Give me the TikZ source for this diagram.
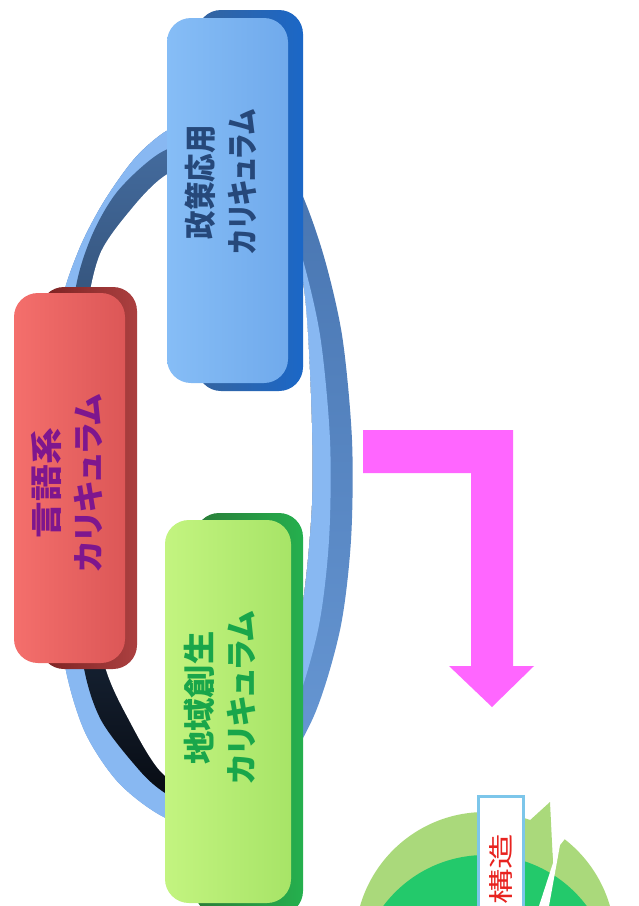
\documentclass[tikz,border=0pt]{standalone}
\usepackage{fontspec}
\usepackage{graphicx}
\newfontfamily\jp[CharacterWidth=AlternateProportional]{Noto Sans CJK JP}
\definecolor{ringlight}{HTML}{88B8F2}
\definecolor{ringouter}{HTML}{3F6BA6}
\definecolor{ringouterb}{HTML}{6E9FDC}
\definecolor{ringdarktop}{HTML}{446C9F}
\definecolor{ringdarkmid}{HTML}{263F63}
\definecolor{ringdarkbot}{HTML}{06090F}
\definecolor{bluefaceL}{HTML}{86BDF6}
\definecolor{bluefaceR}{HTML}{70AAEC}
\definecolor{bluesideL}{HTML}{35649F}
\definecolor{bluesideR}{HTML}{1B67C7}
\definecolor{bluetext}{HTML}{26487A}
\definecolor{redfaceL}{HTML}{F46F6C}
\definecolor{redfaceR}{HTML}{DC5757}
\definecolor{redsideL}{HTML}{7A2222}
\definecolor{redsideR}{HTML}{AC4040}
\definecolor{redtext}{HTML}{7E168E}
\definecolor{greenfaceL}{HTML}{C3F480}
\definecolor{greenfaceR}{HTML}{A7E467}
\definecolor{greensideL}{HTML}{2A7C38}
\definecolor{greensideR}{HTML}{25B04E}
\definecolor{greentext}{HTML}{19A64A}
\definecolor{arrowpink}{HTML}{FF66FF}
\definecolor{cyclelight}{HTML}{AAD97B}
\definecolor{cycledark}{HTML}{23C96B}
\definecolor{labelblue}{HTML}{7CC6EA}
\definecolor{labelred}{HTML}{E8231F}
\begin{document}
\begin{tikzpicture}[x=1pt,y=-1pt,
  boxtext/.style={rotate=90, align=center, inner sep=0pt,
    font=\jp\bfseries\fontsize{32}{42}\selectfont},
  boxface/.style={rounded corners=24pt, minimum width=#1, inner sep=0pt},
]
\useasboundingbox (0,0) rectangle (638,906);
\clip (0,0) rectangle (638,906);
\fill[white] (0,0) rectangle (638,906);

% ---------- ring ----------
\begin{scope}
\clip plot[smooth cycle] coordinates {(206,118) (255,132) (295,180) (322,250) (342,335) (352,440) (351,540) (340,630) (313,718) (266,795) (210,832) (160,815) (117,781) (84,730) (64,660) (57,560) (56,420) (60,312) (78,252) (103,203) (135,158) (168,130)};
\shade[top color=ringouter, bottom color=ringouterb] (0,0) rectangle (638,906);
\begin{scope}[xshift=-22pt]
\fill[ringlight] plot[smooth cycle] coordinates {(206,118) (255,132) (295,180) (322,250) (342,335) (352,440) (351,540) (340,630) (313,718) (266,795) (210,832) (160,815) (117,781) (84,730) (64,660) (57,560) (56,420) (60,312) (78,252) (103,203) (135,158) (168,130)};
\end{scope}
\end{scope}
\shade[top color=ringdarktop, middle color=ringdarkmid, bottom color=ringdarkbot]
  plot[smooth cycle] coordinates {(205,140) (255,158) (288,210) (304,290) (311,400) (312,500) (303,600) (284,690) (252,778) (205,815) (165,793) (140,771) (101,720) (83,663) (73,560) (70,420) (74,300) (90,240) (117,192) (160,153)};
\fill[white]
  plot[smooth cycle] coordinates {(200,160) (250,172) (285,215) (304,290) (311,400) (312,500) (303,600) (284,685) (250,762) (205,795) (162,773) (130,722) (104,663) (88,560) (84,420) (86,320) (100,254) (133,207) (163,177)};

% ---------- blue box ----------
\shade[left color=bluesideL, right color=bluesideR, rounded corners=24pt] (197,10) rectangle (303,391);
\node[boxface=121pt, minimum height=365pt, left color=bluefaceL, right color=bluefaceR] (polbox) at (227.5,200.5) {};
\node[boxtext, text=bluetext] (poltext) at (221,182)
  {\resizebox{114pt}{\height}{政策応用}\\\resizebox{144pt}{\height}{カリキュラム}};

% ---------- red box ----------
\shade[left color=redsideL, right color=redsideR, rounded corners=24pt] (40,287) rectangle (137,669);
\node[boxface=111pt, minimum height=370pt, left color=redfaceL, right color=redfaceR] (langbox) at (69.5,478) {};
\node[boxtext, text=redtext] (langtext) at (67,483)
  {\resizebox{110pt}{\height}{言語系}\\\resizebox{178pt}{\height}{カリキュラム}};

% ---------- green box ----------
\shade[left color=greensideL, right color=greensideR, rounded corners=24pt] (195,513) rectangle (303,915);
\node[boxface=126pt, minimum height=383pt, left color=greenfaceL, right color=greenfaceR] (regbox) at (228,711.5) {};
\node[boxtext, text=greentext] (regtext) at (220,698)
  {\resizebox{133pt}{\height}{地域創生}\\\resizebox{173pt}{\height}{カリキュラム}};

% ---------- magenta bent arrow ----------
\fill[arrowpink] (363,430) -- (513,430) -- (513,666) -- (534,666) -- (492,707)
  -- (449,666) -- (471,666) -- (471,473) -- (363,473) -- cycle;

% ---------- bottom cycle ----------
\fill[cyclelight] (485,942) circle (130pt);
\fill[cycledark] (485,982) circle (127pt);
\fill[white] (548,795) -- (553,863) -- (539,906) -- (549,906) -- (560,845) -- (568,835) -- (562,795) -- cycle;
\fill[cyclelight] (528,822) -- (550,802) -- (553,863) -- (535,863) -- cycle;

\draw[labelblue, line width=3pt, fill=white] (478,796) rectangle (523,960);
\node[rotate=90, inner sep=0pt, text=labelred, font=\jp\fontsize{25}{30}\selectfont] (kozo) at (501,869)
  {\resizebox{71pt}{\height}{構造}};
\end{tikzpicture}
\end{document}
